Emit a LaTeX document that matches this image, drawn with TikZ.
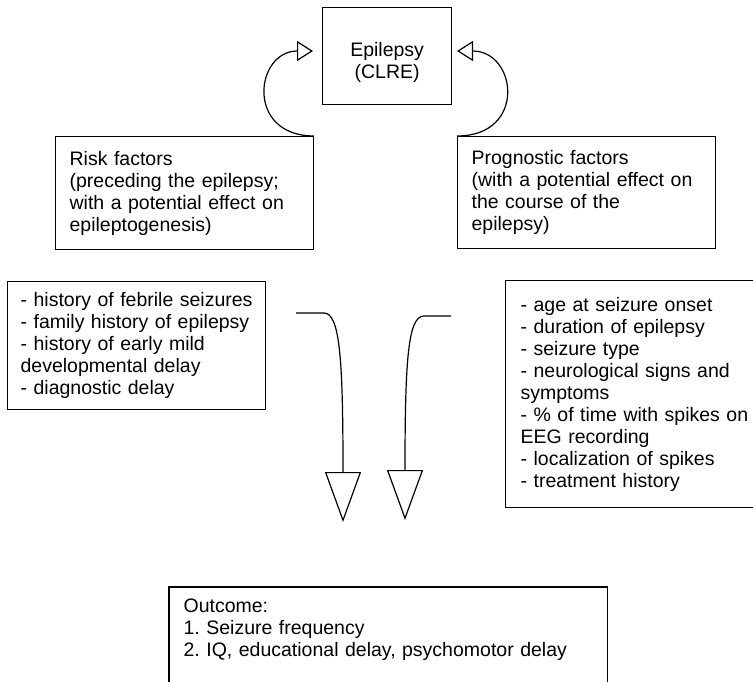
\documentclass[tikz,border=0pt]{standalone}
\usepackage{fontspec}
\setmainfont{Liberation Sans}
\usetikzlibrary{arrows.meta}

\begin{document}
\begin{tikzpicture}[x=1pt, y=-1pt,
  box/.style={draw, line width=1.2pt, inner xsep=14pt, inner ysep=0pt, align=left, anchor=north west,
    font=\fontsize{19.5pt}{22pt}\selectfont\frenchspacing},
  backarrow/.style={line width=1.2pt, -{Triangle[open, length=16pt, width=20pt]}},
  downarrow/.style={line width=1.2pt, -{Triangle[open, length=50pt, width=36pt]}}
]
  \useasboundingbox (0,0) rectangle (753,682);

  % Boxes
  \node[box, align=center, inner xsep=0pt, minimum width=129pt, minimum height=97pt] (epilepsy) at (322,7) {\rule{0pt}{26pt}Epilepsy\\(CLRE)};
  \node[box, text width=230pt, minimum height=113pt] (risk) at (55,136) {Risk factors\\(preceding the epilepsy;\\\mbox{with a potential effect on}\\epileptogenesis)};
  \node[box, text width=230pt, minimum height=112pt] (prognostic) at (457,136) {Prognostic factors\\\mbox{(with a potential effect on}\\the course of the\\epilepsy)};
  \node[box, text width=232pt, inner xsep=13pt, minimum height=128pt] (riskList) at (7,281) {\mbox{- history of febrile seizures}\\\mbox{- family history of epilepsy}\\\mbox{- history of early mild}\\\mbox{developmental delay}\\- diagnostic delay};
  \node[box, text width=240pt, inner xsep=15pt, minimum height=227pt] (progList) at (505,280) {- age at seizure onset\\- duration of epilepsy\\- seizure type\\\mbox{- neurological signs and}\\symptoms\\\mbox{- \% of time with spikes on}\\EEG recording\\- localization of spikes\\- treatment history};

  % Outcome (cut off at the bottom)
  \node[box, draw=none, inner ysep=11pt, text width=409pt] (outcome) at (169,587) {Outcome:\\1. Seizure frequency\\2. IQ, educational delay, psychomotor delay};
  \draw[line width=1.2pt] (outcome.south west |- 0,700) -- (outcome.north west) -- (outcome.north east) -- (outcome.south east |- 0,700);

  % Arrows back to the epilepsy
  \coordinate (riskTip) at (313,51);
  \coordinate (progTip) at (457,51);
  \draw[backarrow] (risk.north east) .. controls (245,136) and (255,51) .. (riskTip);
  \draw[backarrow] (prognostic.north west) .. controls (527,136) and (517,51) .. (progTip);

  % Arrows down to the outcome
  \coordinate (leftIn) at (296,313);
  \coordinate (leftTip) at (343,522);
  \coordinate (rightIn) at (451,316);
  \coordinate (rightTip) at (405,520);
  \draw[downarrow] (leftIn) -- (324,313) .. controls (340,313) and (343,360) .. (343,472) -- (leftTip);
  \draw[downarrow] (rightIn) -- (424,316) .. controls (408,316) and (405,360) .. (405,470) -- (rightTip);
\end{tikzpicture}
\end{document}
